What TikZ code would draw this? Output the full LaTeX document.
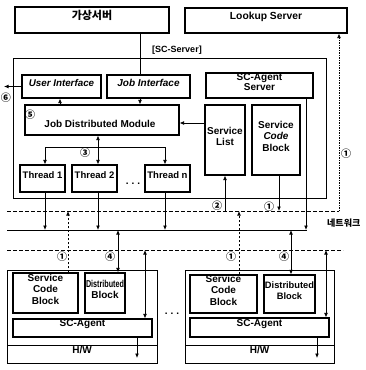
\documentclass[tikz,border=0pt]{standalone}
\usepackage{fontspec}
\setmainfont{Liberation Sans}
\newfontfamily\krfont{Noto Sans CJK KR}
\usetikzlibrary{arrows.meta,fit}
\begin{document}
\begin{tikzpicture}[x=1pt,y=-1pt,
  box/.style={draw, line width=1.1pt, inner sep=0pt, align=center, font=\bfseries\fontsize{10}{11.5}\selectfont},
  frame/.style={draw, line width=0.8pt, inner sep=0pt, align=center, font=\bfseries\fontsize{10}{11.5}\selectfont},
  ln/.style={line width=0.75pt},
  arr/.style={ln, -{Latex[length=4.5pt,width=3.8pt]}},
  darr/.style={ln, {Latex[length=4.5pt,width=3.8pt]}-{Latex[length=4.5pt,width=3.8pt]}},
  rarr/.style={ln, {Latex[length=4.5pt,width=3.8pt]}-},
  netd/.style={line width=0.8pt, dash pattern=on 4pt off 2pt},
  nets/.style={line width=0.9pt},
  dsh/.style={line width=0.75pt, dash pattern=on 2.5pt off 1.5pt},
  dotl/.style={line width=0.75pt, dash pattern=on 1.5pt off 1pt},
  num/.style={inner sep=0pt, font=\krfont\bfseries\fontsize{10}{10}\selectfont},
]
\useasboundingbox (0,0) rectangle (365,370);

% top boxes
\node[box, fit={(15,7) (169,33)}, font=\krfont\bfseries\fontsize{11}{12}\selectfont] (vs) {가상서버};
\node[box, fit={(185,8) (347,33)}, font=\bfseries\fontsize{10.3}{13}\selectfont] (lk) {Lookup Server};
\node[inner sep=0pt, font=\bfseries\fontsize{9}{11}\selectfont] (scs) at (177,50) {[SC-Server]};

% SC-Server
\node[frame, fit={(13,58) (326,198)}] (srv) {};
\node[box, fit={(22,75) (101,98)}, font=\bfseries\itshape\fontsize{9.8}{12}\selectfont] (ui) {User Interface};
\node[box, fit={(107,75) (190,98)}, font=\bfseries\itshape\fontsize{10}{12}\selectfont] (ji) {Job Interface};
\node[box, fit={(206,73) (313,98)}, font=\bfseries\fontsize{10}{10.5}\selectfont] (sca) {SC-Agent\\Server};
\node[box, fit={(25,105) (179,135)}] (jdm) {};
\node[inner sep=0pt, font=\bfseries\fontsize{10}{12}\selectfont] (jdmt) at (100,124) {Job Distributed Module};
\node[num] (n5) at (30,115) {⑤};
\node[box, fit={(205,105) (245,175)}] (sl) {Service\\List};
\node[box, fit={(252,105) (300,175)}] (scbs) {Service\\\textit{Code}\\Block};
\node[box, fit={(20,165) (65,192)}, font=\bfseries\fontsize{9.5}{11}\selectfont] (t1) {Thread 1};
\node[box, fit={(72,165) (117,192)}, font=\bfseries\fontsize{9.5}{11}\selectfont] (t2) {Thread 2};
\node[box, fit={(145,165) (190,192)}, font=\bfseries\fontsize{9.5}{11}\selectfont] (tn) {Thread n};
\node[inner sep=0pt, anchor=base, font=\bfseries\fontsize{10}{10}\selectfont] (dots1) at (133,184) {.\hspace{3pt}.\hspace{3pt}.};

% network lines
\coordinate (n1l) at (7,211);  \coordinate (n1r) at (339,211);
\coordinate (n2l) at (7,230);  \coordinate (n2r) at (307,230);
\coordinate (n3l) at (7,250);  \coordinate (n3r) at (343,250);
\draw[netd] (n1l) -- (n1r);
\draw[nets] (n2l) -- (n2r);
\draw[netd] (n3l) -- (n3r);
\draw[dotl, -{Latex[length=4.5pt,width=3.8pt]}] (n1r) -- (lk.south -| n1r);
\node[num] (nlk) at (346,154) {①};
\node[inner sep=0pt, anchor=west, font=\krfont\bfseries\fontsize{9}{10}\selectfont] (nw) at (327,223) {네트워크};

% server connectors
\coordinate (xa) at (140,0);
\draw[ln] (vs.south -| xa) -- (ji.north -| xa);
\draw[arr] (ji.south -| xa) -- (jdm.north -| xa);
\coordinate (xb) at (60,0);
\draw[arr] (jdm.north -| xb) -- (ui.south -| xb);
\coordinate (o6) at (4,86.5);
\draw[arr] (ui.west) -- (o6);
\node[num] (n6) at (6,98) {⑥};
\coordinate (sly) at (0,123);
\draw[arr] (sl.west |- sly) -- (jdm.east |- sly);

\coordinate (f1) at (45,147); \coordinate (f2) at (98,147); \coordinate (fn) at (165,147);
\draw[rarr] (jdm.south -| f2) -- (f2);
\draw[arr] (f2) -- (t2.north -| f2);
\draw[arr] (f2) -- (f1) -- (t1.north -| f1);
\draw[arr] (f2) -- (fn) -- (tn.north -| fn);
\node[num] (n3) at (85,153) {③};

\draw[arr] (t1.south -| f1) -- (n2l -| f1);
\draw[arr] (t2.south -| f2) -- (n2l -| f2);
\draw[arr] (tn.south -| fn) -- (n2l -| fn);

\coordinate (xs) at (306,0);
\draw[arr] (sca.south -| xs) -- (n2l -| xs);
\coordinate (xl) at (225,0);
\draw[arr] (n1l -| xl) -- (sl.south -| xl);
\node[num] (n2) at (217,206) {②};
\coordinate (xc) at (279,0);
\draw[arr] (scbs.south -| xc) -- (n1l -| xc);
\node[num] (n1s) at (269,207) {①};

% agent 1
\node[frame, fit={(7,270) (157,345)}] (ag1) {};
\node[box, fit={(13,273) (78,313)}] (scb1) {Service\\Code\\Block};
\node[box, fit={(85,273) (125,313)}] (db1) {\scalebox{0.72}[1]{Distributed}\\Block};
\node[box, fit={(13,319) (152,337)}] (sa1) {SC-Agent};
\node[frame, fit={(7,345) (157,363)}] (hw1) {H/W};
\coordinate (a1x) at (68,0);
\draw[dsh, -{Latex[length=4.5pt,width=3.8pt]}] (scb1.north -| a1x) -- (n1l -| a1x);
\node[num] (na1) at (62,257) {①};
\coordinate (a4x) at (118,0);
\draw[darr] (n2l -| a4x) -- (db1.north -| a4x);
\node[num] (na4) at (110,257) {④};
\coordinate (a5x) at (145,0);
\draw[darr] (n3l -| a5x) -- (sa1.north -| a5x);
\coordinate (hw1p) at (137,358);
\draw[arr] (sa1.south -| hw1p) -- (hw1p);

\node[inner sep=0pt, anchor=base, font=\bfseries\fontsize{10}{10}\selectfont] (dots2) at (172,314) {.\hspace{3pt}.\hspace{3pt}.};

% agent 2
\node[frame, fit={(185,270) (334,345)}] (ag2) {};
\node[box, fit={(190,275) (257,313)}] (scb2) {Service\\Code\\Block};
\node[box, fit={(264,275) (315,313)}, font=\bfseries\fontsize{9.3}{11.5}\selectfont] (db2) {Distributed\\Block};
\node[box, fit={(190,318) (329,337)}] (sa2) {SC-Agent};
\node[frame, fit={(185,345) (334,363)}] (hw2) {H/W};
\coordinate (b1x) at (239,0);
\draw[dsh, -{Latex[length=4.5pt,width=3.8pt]}] (scb2.north -| b1x) -- (n1l -| b1x);
\node[num] (nb1) at (231,257) {①};
\coordinate (b4x) at (291,0);
\draw[darr] (n2l -| b4x) -- (db2.north -| b4x);
\node[num] (nb4) at (284,257) {④};
\coordinate (b5x) at (326,0);
\draw[darr] (n3l -| b5x) -- (sa2.north -| b5x);
\coordinate (hw2p) at (317,358);
\draw[arr] (sa2.south -| hw2p) -- (hw2p);
\end{tikzpicture}
\end{document}
